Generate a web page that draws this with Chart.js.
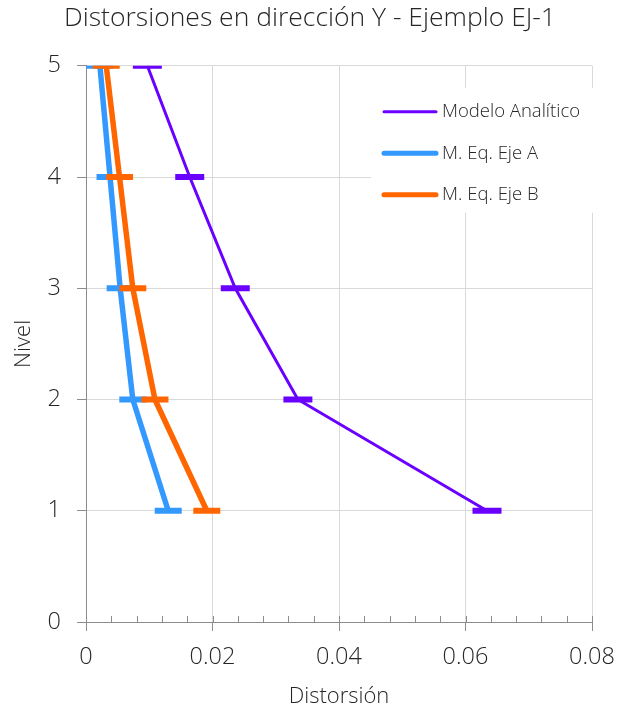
<!DOCTYPE html>
<html><head><meta charset="utf-8">
<script src="https://cdn.jsdelivr.net/npm/chart.js@4"></script>
<style>html,body{margin:0;padding:0;background:#fff}#wrap{width:630px;height:714px}</style>
</head><body><div id="wrap"><canvas id="c" width="630" height="714"></canvas></div>
<script>
const levels = [1, 2, 3, 4, 5];
const modeloAnalitico = [0.0634, 0.0335, 0.0236, 0.0164, 0.0097];
const ejeA = [0.0130, 0.0074, 0.0054, 0.0038, 0.0022];
const ejeB = [0.0191, 0.0109, 0.0074, 0.0053, 0.0032];
const xTicks = [0, 0.02, 0.04, 0.06, 0.08];
const yTicks = [0, 1, 2, 3, 4, 5];
const seriesNames = ['Modelo Analítico', 'M. Eq. Eje A', 'M. Eq. Eje B'];
const seriesColors = ['#6A00FF', '#3399FF', '#FF6600'];

const FONT = "'Open Sans', 'Noto Sans', sans-serif";
const TEXT = '#262626';
const pts = (xs) => xs.map((x, i) => ({ x: x, y: levels[i] }));

const minorTicks = {
  id: 'minorTicks',
  afterDraw(chart) {
    const ctx = chart.ctx, xs = chart.scales.x, a = chart.chartArea;
    ctx.save();
    ctx.strokeStyle = '#8c8c8c';
    ctx.lineWidth = 1;
    const step = (xTicks[1] - xTicks[0]) / 5;
    for (let v = xTicks[0]; v <= xTicks[xTicks.length - 1] + 1e-9; v += step) {
      const px = Math.round(xs.getPixelForValue(v)) + 0.5;
      ctx.beginPath();
      ctx.moveTo(px, a.bottom);
      ctx.lineTo(px, a.bottom - 6);
      ctx.stroke();
    }
    ctx.restore();
  }
};

const boxLegend = {
  id: 'boxLegend',
  afterDatasetsDraw(chart) {
    const ctx = chart.ctx, a = chart.chartArea;
    const x0 = a.left + 285, y0 = a.top + 22;
    const w = a.right - x0 + 8, h = 125;
    ctx.save();
    ctx.fillStyle = '#fff';
    ctx.fillRect(x0, y0, w, h);
    ctx.font = '300 18.5px ' + FONT;
    ctx.textBaseline = 'middle';
    ctx.textAlign = 'left';
    seriesNames.forEach((name, i) => {
      const y = y0 + 24 + i * 41.5;
      ctx.strokeStyle = seriesColors[i];
      ctx.lineWidth = i === 0 ? 3 : 5;
      ctx.lineCap = 'round';
      ctx.beginPath();
      ctx.moveTo(x0 + 13, y);
      ctx.lineTo(x0 + 65, y);
      ctx.stroke();
      ctx.fillStyle = TEXT;
      ctx.fillText(name, x0 + 71, y);
    });
    ctx.restore();
  }
};

new Chart(document.getElementById('c'), {
  type: 'line',
  data: {
    datasets: [
      { label: seriesNames[0], data: pts(modeloAnalitico), borderColor: seriesColors[0], backgroundColor: seriesColors[0],
        borderWidth: 3, pointStyle: 'line', pointRadius: 14.5, pointBorderWidth: 6, pointBorderColor: seriesColors[0], order: 3 },
      { label: seriesNames[1], data: pts(ejeA), borderColor: seriesColors[1], backgroundColor: seriesColors[1],
        borderWidth: 5.5, pointStyle: 'line', pointRadius: 13.5, pointBorderWidth: 6, pointBorderColor: seriesColors[1], order: 2 },
      { label: seriesNames[2], data: pts(ejeB), borderColor: seriesColors[2], backgroundColor: seriesColors[2],
        borderWidth: 5.5, pointStyle: 'line', pointRadius: 13.5, pointBorderWidth: 6, pointBorderColor: seriesColors[2], order: 1 }
    ]
  },
  options: {
    responsive: false,
    animation: false,
    events: [],
    layout: { padding: { left: 0, right: 10, top: 0, bottom: 0 } },
    plugins: {
      legend: { display: false },
      tooltip: { enabled: false },
      title: {
        display: true,
        text: 'Distorsiones en dirección Y - Ejemplo EJ-1',
        color: TEXT,
        font: { family: FONT, size: 26.5, weight: 300 },
        padding: { top: 3, bottom: 31 }
      }
    },
    scales: {
      x: {
        type: 'linear',
        min: xTicks[0], max: xTicks[xTicks.length - 1],
        afterBuildTicks: (s) => { s.ticks = xTicks.map(v => ({ value: v })); },
        afterFit: (s) => { s.height = 92; },
        ticks: { color: TEXT, font: { family: FONT, size: 23.5, weight: 300 }, padding: 12, maxRotation: 0,
          callback: (v) => String(v) },
        grid: { color: '#d9d9d9', lineWidth: 1, tickColor: '#8c8c8c', tickLength: 9 },
        border: { color: '#8c8c8c', width: 1 },
        title: { display: true, text: 'Distorsión', color: TEXT, font: { family: FONT, size: 22, weight: 300 }, padding: { top: 0, bottom: 4 } }
      },
      y: {
        type: 'linear',
        min: yTicks[0], max: yTicks[yTicks.length - 1],
        afterBuildTicks: (s) => { s.ticks = yTicks.map(v => ({ value: v })); },
        afterFit: (s) => { s.width = 86; },
        ticks: { color: TEXT, font: { family: FONT, size: 23.5, weight: 300 }, padding: 16 },
        grid: { color: '#d9d9d9', lineWidth: 1, tickColor: '#8c8c8c', tickLength: 9 },
        border: { color: '#8c8c8c', width: 1 },
        title: { display: true, text: 'Nivel', color: TEXT, font: { family: FONT, size: 22, weight: 300 }, padding: { top: 11, bottom: 0 } }
      },
      yRight: {
        type: 'linear',
        position: 'right',
        min: yTicks[0], max: yTicks[yTicks.length - 1],
        afterFit: (s) => { s.width = 28; },
        ticks: { display: false },
        grid: { display: false, drawTicks: false },
        border: { display: false }
      }
    }
  },
  plugins: [minorTicks, boxLegend]
});
</script>
</body></html>
